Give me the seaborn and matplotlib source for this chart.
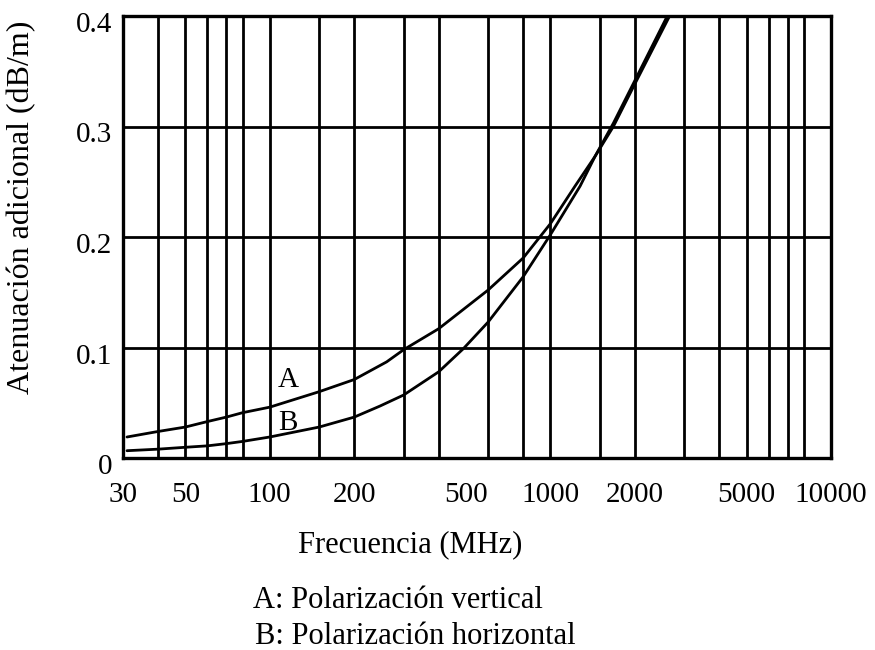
import matplotlib
matplotlib.use("Agg")
import matplotlib.pyplot as plt
from matplotlib.ticker import NullFormatter, FixedLocator
from matplotlib.transforms import ScaledTranslation
import seaborn as sns
import pandas as pd

# Curve A: vertical polarization
freq_a = [31, 40, 50, 60, 70, 80, 100, 150, 200, 261, 300, 400, 600, 800,
          1000, 1224, 1443, 1677, 1950, 2660]
att_a = [0.019, 0.024, 0.028, 0.033, 0.037, 0.041, 0.046, 0.060, 0.071, 0.087,
         0.098, 0.117, 0.152, 0.181, 0.212, 0.246, 0.273, 0.300, 0.333, 0.400]

# Curve B: horizontal polarization
freq_b = [31, 40, 50, 60, 70, 80, 100, 150, 200, 247, 300, 400, 490, 600, 800,
          1000, 1276, 1443, 1677, 1950, 2610]
att_b = [0.0066, 0.008, 0.0097, 0.011, 0.013, 0.015, 0.019, 0.028, 0.037, 0.047,
         0.057, 0.078, 0.099, 0.123, 0.164, 0.202, 0.246, 0.273, 0.303, 0.336,
         0.400]

# Axis annotations
x_ticks = [30, 50, 100, 200, 500, 1000, 2000, 5000, 10000]
x_tick_labels = ["30", "50", "100", "200", "500", "1000", "2000", "5000", "10000"]
x_grid = [40, 50, 60, 70, 80, 100, 150, 200, 300, 400, 600, 800, 1000, 1500,
          2000, 3000, 4000, 5000, 6000, 7000, 8000]
y_ticks = [0, 0.1, 0.2, 0.3, 0.4]
y_tick_labels = ["0", "0.1", "0.2", "0.3", "0.4"]

curve_names = ["A", "B"]
x_label = "Frecuencia (MHz)"
y_label = "Atenuación adicional (dB/m)"
caption = ["A: Polarización vertical", "B: Polarización horizontal"]

df = pd.concat([
    pd.DataFrame({"freq": freq_a, "att": att_a, "curve": curve_names[0]}),
    pd.DataFrame({"freq": freq_b, "att": att_b, "curve": curve_names[1]}),
])

sns.set_theme(style="white")
plt.rcParams["font.family"] = ["Liberation Serif", "DejaVu Serif"]

fig = plt.figure(figsize=(8.75, 6.5), dpi=100)
ax = fig.add_axes([123 / 875, 1 - 458 / 650, 708 / 875, 442 / 650])

sns.lineplot(data=df, x="freq", y="att", hue="curve",
             palette={"A": "black", "B": "black"}, estimator=None,
             sort=True, legend=False, linewidth=2.0, ax=ax)

ax.set_xscale("log")
ax.set_xlim(30, 10000)
ax.set_ylim(0, 0.4)

# keep grid positions that coincide with labelled ticks
ax.xaxis.remove_overlapping_locs = False
ax.xaxis.set_major_locator(FixedLocator(x_ticks))
ax.set_xticklabels(x_tick_labels)
ax.xaxis.set_minor_locator(FixedLocator(x_grid))
ax.xaxis.set_minor_formatter(NullFormatter())
ax.set_yticks(y_ticks)
ax.set_yticklabels(y_tick_labels)

ax.grid(False)
ax.grid(True, which="minor", axis="x", color="black", linewidth=2.0)
ax.grid(True, which="major", axis="y", color="black", linewidth=2.0)
ax.set_axisbelow(True)

ax.tick_params(axis="both", which="both", length=0, labelsize=21,
               colors="black")
ax.tick_params(axis="x", which="major", pad=17)
ax.tick_params(axis="y", which="major", pad=8)

# nudge the value labels slightly below their grid lines
shift = ScaledTranslation(0, -0.06, fig.dpi_scale_trans)
for lab in ax.get_yticklabels():
    lab.set_transform(lab.get_transform() + shift)

for side in ax.spines.values():
    side.set_visible(True)
    side.set_color("black")
    side.set_linewidth(2.4)

ax.set_xlabel(x_label, fontsize=22, color="black", va="center")
ax.xaxis.set_label_coords((410 - 123) / 708, (458 - 545) / 442)
ax.set_ylabel(y_label, fontsize=23, color="black", va="center")
ax.yaxis.set_label_coords((22 - 123) / 708, (458 - 207) / 442)

ax.text(116, 0.0706, curve_names[0], fontsize=21, ha="center", va="center",
        color="black")
ax.text(116, 0.032, curve_names[1], fontsize=21, ha="center", va="center",
        color="black")

fig.text(253 / 875, 1 - 600 / 650, caption[0], fontsize=22, ha="left",
         va="center", color="black")
fig.text(255 / 875, 1 - 637 / 650, caption[1], fontsize=22, ha="left",
         va="center", color="black")

fig.savefig("out.png", dpi=100, facecolor="white")
